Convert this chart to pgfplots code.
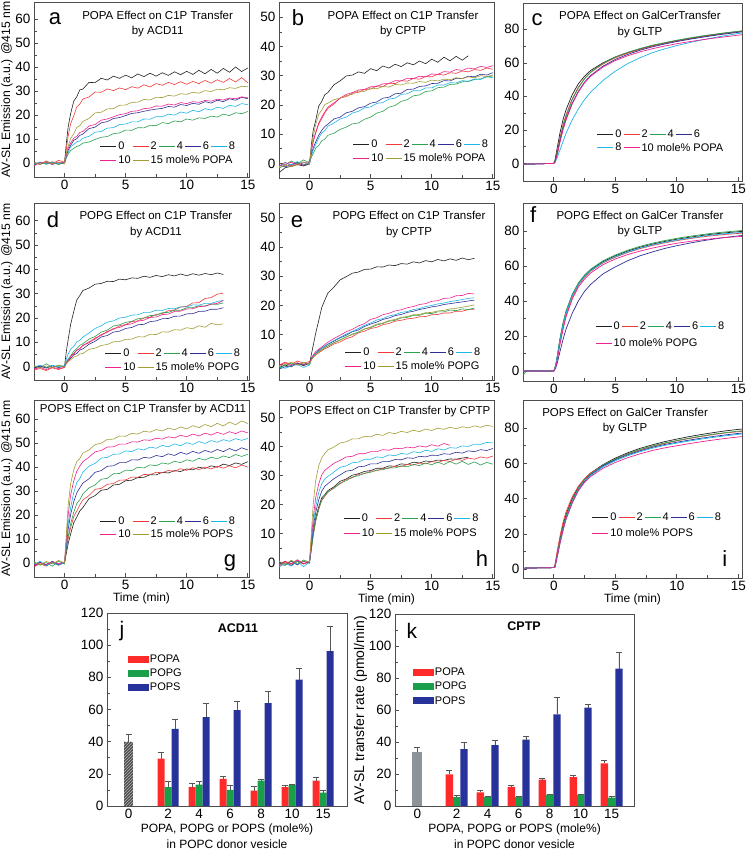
\documentclass[border=0pt]{standalone}
\usepackage{fontspec}
\setmainfont{Liberation Sans}
\setsansfont{Liberation Sans}
\usepackage{pgfplots}
\usepackage{pgfplotstable}
\pgfplotsset{compat=1.18}
\usetikzlibrary{patterns}

\definecolor{axgray}{HTML}{4D4D4D}
\definecolor{c0}{HTML}{222222}
\definecolor{c2}{HTML}{F03A3A}
\definecolor{c4}{HTML}{2BA04F}
\definecolor{c6}{HTML}{2E2E96}
\definecolor{c8}{HTML}{1EB4E6}
\definecolor{c10}{HTML}{F0208C}
\definecolor{c15}{HTML}{A29C34}
\definecolor{bred}{HTML}{FF2B2B}
\definecolor{bgreen}{HTML}{1A9E4A}
\definecolor{bblue}{HTML}{27339A}
\definecolor{bgray}{HTML}{8C9399}
\definecolor{hatchbg}{HTML}{505050}
\definecolor{hatchln}{HTML}{B4B4B4}
\definecolor{errgray}{HTML}{555555}

\tikzset{
  letter/.style={anchor=base, font=\fontsize{22}{22}\selectfont, inner sep=0pt},
  ttl/.style={align=center, font=\fontsize{11.5}{15.5}\selectfont, inner sep=0pt},
}

\pgfplotsset{
  kin/.style={
    scale only axis, anchor=south west,
    xmin=-2.5, xmax=15.1,
    xtick={0,5,10,15}, minor x tick num=1, minor y tick num=1,
    tick align=inside, xtick pos=left, ytick pos=left,
    axis line style={draw=axgray, line width=0.8pt},
    tick style={draw=axgray, line width=0.6pt},
    major tick length=4pt, minor tick length=2.5pt,
    tick label style={font=\fontsize{13.5}{13.5}\selectfont},
    /pgf/number format/assume math mode=true,
    clip mode=individual,
    every axis plot/.append style={line width=0.6pt},
    legend style={draw=none, fill=none, font=\fontsize{11}{11}\selectfont,
      anchor=north west, inner sep=0pt, outer sep=0pt, row sep=1pt,
      nodes={inner sep=1.6pt},
      /tikz/every even column/.append style={column sep=0pt}},
    legend cell align=left,
    legend image code/.code={\draw[#1, line width=0.8pt] (0pt,0pt) -- (16pt,0pt);},
    ylabel style={font=\fontsize{12.2}{13}\selectfont},
    ylabel shift=-4pt,
    xlabel style={font=\fontsize{12}{13}\selectfont, yshift=4pt},
  },
  bar/.style={
    scale only axis, anchor=south west,
    ymin=0, ymax=120, ytick={0,20,...,120}, minor y tick num=1,
    xtick={-0.27,1,2,3,4,5,6}, xticklabels={0,2,4,6,8,10,15},
    tick align=inside, xtick pos=left, ytick pos=left,
    x tick style={draw=none},
    axis line style={draw=axgray, line width=0.8pt},
    y tick style={draw=axgray, line width=0.6pt},
    major tick length=4pt, minor tick length=2.5pt,
    tick label style={font=\fontsize{13.5}{13.5}\selectfont},
    /pgf/number format/assume math mode=true,
    clip mode=individual,
    xlabel={POPA, POPG or POPS (mole\%)\\in POPC donor vesicle},
    xlabel style={align=center, font=\fontsize{12}{15.5}\selectfont, yshift=2pt},
    legend style={draw=none, fill=none, font=\fontsize{11}{11}\selectfont,
      anchor=north west, inner sep=0pt, outer sep=0pt, row sep=3pt,
      nodes={inner sep=1pt}},
    legend cell align=left,
  },
  eb/.style={
    /pgfplots/error bars/y dir=plus, /pgfplots/error bars/y explicit,
    /pgfplots/error bars/error bar style={line width=0.5pt, color=errgray},
    /pgfplots/error bars/error mark options={rotate=90, mark size=3pt, line width=0.5pt, color=errgray},
  },
  bleg/.style={legend image code/.code={\fill[##1] (0pt,-3.5pt) rectangle (21pt,3.5pt);}},
}

\newcommand{\seven}[2]{%
  \addplot[c0] table[x=t,y=s0]{#1}; \addlegendentry{0}
  \addplot[c2] table[x=t,y=s2]{#1}; \addlegendentry{2}
  \addplot[c4] table[x=t,y=s4]{#1}; \addlegendentry{4}
  \addplot[c6] table[x=t,y=s6]{#1}; \addlegendentry{6}
  \addplot[c8] table[x=t,y=s8]{#1}; \addlegendentry{8}
  \addplot[c10] table[x=t,y=s10]{#1}; \addlegendentry{10}
  \addplot[c15] table[x=t,y=s15]{#1}; \addlegendentry{\makebox[0pt][l]{15 mole\% #2}}
}
\newcommand{\six}[2]{%
  \addplot[c0,line width=0.7pt] table[x=t,y=s0]{#1}; \addlegendentry{0}
  \addplot[c2,line width=0.7pt] table[x=t,y=s2]{#1}; \addlegendentry{2}
  \addplot[c4,line width=0.7pt] table[x=t,y=s4]{#1}; \addlegendentry{4}
  \addplot[c6,line width=0.7pt] table[x=t,y=s6]{#1}; \addlegendentry{6}
  \addplot[c8,line width=0.7pt] table[x=t,y=s8]{#1}; \addlegendentry{8}
  \addplot[c10,line width=0.7pt] table[x=t,y=s10]{#1}; \addlegendentry{\makebox[0pt][l]{10 mole\% #2}}
}

% ---------------- data ----------------
\pgfplotstableread{
t s0 s2 s4 s6 s8 s10 s15
-2.5 -0.8 0.5 -0.6 0.2 -0.3 -1.0 0.3
-2.0 0.4 -0.5 0.3 -0.4 0.5 0.2 -0.5
-1.5 -0.3 1.0 -0.2 0.6 -0.4 0.4 0.6
-1.0 0.6 -0.2 0.4 -0.5 0.3 -0.3 -0.2
-0.5 -0.4 1.2 -0.5 0.3 -0.2 0.5 0.4
0.0 0.3 0.5 0.2 -0.2 0.4 0.1 -0.1
0.15 8.5 6.0 2.2 3.0 2.8 3.3 4.2
0.3 15.2 11.4 3.8 5.5 4.4 6.3 7.2
0.5 20.6 16.5 5.3 7.4 6.9 8.4 10.3
0.75 25.8 19.6 6.2 9.5 7.8 10.4 12.2
1.0 27.6 23.4 7.0 10.2 8.9 11.2 14.9
1.25 30.5 24.6 7.4 11.6 9.3 12.8 15.6
1.5 30.8 26.7 8.4 12.1 10.4 13.2 17.4
2.0 33.6 27.5 8.8 14.4 11.2 15.5 18.6
2.5 33.5 29.6 9.9 15.0 12.9 16.1 20.9
3.0 35.3 29.5 10.8 16.8 13.2 17.9 21.2
3.5 34.6 30.9 11.1 17.3 14.6 18.4 22.6
4.0 36.2 30.2 12.3 18.6 14.8 19.3 22.7
4.5 35.3 31.3 12.6 19.0 16.1 20.2 24.1
5.0 36.6 30.6 13.8 19.8 16.3 20.6 24.2
5.5 35.5 31.8 13.7 20.7 17.2 21.6 25.3
6.0 37.1 31.2 14.8 21.0 17.2 21.8 25.4
6.5 36.0 32.6 14.7 21.6 18.4 22.7 26.5
7.0 37.4 31.7 15.8 22.1 18.3 22.9 26.3
7.5 36.2 33.1 15.6 22.5 19.4 23.8 27.4
8.0 37.6 32.4 16.9 22.8 19.3 23.7 27.3
8.5 36.5 33.6 16.5 23.6 20.4 24.6 28.2
9.0 38.0 32.7 17.6 23.3 20.0 24.2 27.9
9.5 36.8 33.9 17.2 24.4 21.3 25.2 28.9
10.0 38.2 32.8 18.4 24.0 20.8 24.8 28.6
10.5 36.9 34.0 17.9 24.9 22.0 25.6 29.5
11.0 38.6 33.1 18.9 24.5 21.4 25.3 29.1
11.5 37.2 34.4 18.6 25.6 22.7 26.1 30.2
12.0 39.0 33.3 19.6 25.0 22.1 25.8 29.8
12.5 37.4 34.7 19.2 26.2 23.3 26.6 30.8
13.0 39.4 33.6 20.4 25.6 22.8 26.3 30.5
13.5 37.8 35.2 19.8 26.8 24.1 27.1 31.4
14.0 40.0 33.8 21.0 26.2 23.6 26.8 31.1
14.5 38.1 35.6 20.6 27.4 24.8 27.6 32.0
15.0 39.6 33.4 21.5 26.8 24.3 27.2 31.8
}\tA

\pgfplotstableread{
t s0 s2 s4 s6 s8 s10 s15
-2.5 -3.2 -1.0 -1.6 -0.5 -1.2 -0.8 -1.5
-2.0 -1.5 0.4 -0.6 -1.2 0.3 -0.3 -0.6
-1.5 -1.0 -0.8 0.8 -0.4 -0.5 0.4 -1.2
-1.0 -0.4 0.2 -0.2 0.3 0.6 -0.6 -0.3
-0.5 -0.9 -0.6 1.2 -0.7 -0.3 0.2 0.5
0.0 -0.2 0.3 0.1 0.2 0.1 0.6 -0.4
0.15 6.4 4.2 2.1 3.2 2.5 4.4 5.3
0.3 11.3 7.4 3.3 5.2 4.6 7.6 9.2
0.5 14.6 10.3 5.2 7.3 6.4 10.6 13.2
0.75 19.6 13.4 6.1 9.6 8.7 13.7 16.8
1.0 21.2 15.3 7.7 11.3 10.4 15.9 18.2
1.25 23.5 17.3 8.3 12.6 11.2 17.6 20.1
1.5 24.2 18.8 9.6 13.4 12.7 19.2 20.6
2.0 26.9 20.3 10.3 15.2 13.8 20.7 21.8
2.5 28.2 22.4 11.6 15.8 15.2 22.3 22.3
3.0 29.9 22.8 12.4 17.3 15.8 23.6 23.2
3.5 30.2 24.0 13.5 17.8 17.2 24.2 23.6
4.0 31.3 24.3 13.8 19.0 17.8 25.1 24.8
4.5 30.8 25.3 15.1 19.4 19.0 25.3 24.6
5.0 32.4 25.4 15.8 20.6 19.3 26.2 25.8
5.5 31.7 26.5 17.2 21.0 20.5 26.3 25.5
6.0 33.3 26.3 17.8 22.3 20.8 27.2 26.3
6.5 32.6 27.4 19.2 22.6 22.0 27.3 26.1
7.0 33.9 27.3 19.8 23.8 22.3 28.3 27.0
7.5 33.1 28.3 21.2 24.0 23.6 28.2 26.8
8.0 34.4 28.1 21.8 25.3 23.8 29.1 27.5
8.5 33.7 29.0 23.1 25.4 24.9 29.0 27.4
9.0 35.0 28.8 23.4 26.3 24.8 29.8 28.0
9.5 34.1 29.7 24.6 26.5 25.8 29.6 27.7
10.0 35.6 29.6 24.8 27.3 25.8 30.6 28.5
10.5 34.6 30.5 25.9 27.4 26.8 30.4 28.2
11.0 36.3 30.2 26.1 28.3 26.8 31.4 28.8
11.5 35.1 31.0 27.0 28.2 27.6 31.2 28.6
12.0 36.6 30.8 27.1 29.1 27.5 32.1 29.3
12.5 35.3 31.6 27.9 29.0 28.3 31.8 29.0
13.0 36.8 31.3 28.0 29.8 28.1 32.6 29.6
13.5 nan 32.1 28.7 29.6 28.9 32.3 29.3
14.0 nan 31.8 28.9 30.5 28.7 33.2 30.0
14.5 nan 32.6 29.6 30.2 29.6 32.8 29.7
15.0 nan 32.2 29.9 31.0 29.3 33.4 30.2
}\tB

\pgfplotstableread{
t s0 s2 s4 s6 s8 s10
-2.5 -0.5 -0.5 -0.5 -0.5 -0.5 -0.5
0.0 0.0 0.0 0.0 0.0 0.0 0.0
0.1 2.0 1.0 1.0 0.8 0.5 0.7
0.25 8.0 6.0 5.5 5.0 3.0 4.5
0.5 18.0 15.0 14.0 13.0 8.0 12.5
0.75 26.0 23.0 22.0 20.5 13.0 20.0
1.0 32.0 29.0 28.0 26.5 18.0 26.0
1.5 41.0 38.5 38.0 36.0 26.0 35.5
2.0 47.5 45.5 45.0 43.0 32.5 42.5
2.5 52.0 50.5 50.5 48.5 38.0 48.0
3.0 55.5 54.3 54.5 52.5 42.5 52.0
4.0 60.0 59.3 59.8 58.0 49.5 57.5
5.0 63.5 63.0 63.5 62.0 55.0 61.3
6.0 66.0 65.8 66.3 65.0 59.5 64.2
7.0 68.3 68.0 68.5 67.5 63.0 66.5
8.0 70.2 70.0 70.5 69.5 66.0 68.4
9.0 71.8 71.6 72.0 71.2 68.3 70.0
10.0 73.2 73.0 73.5 72.7 70.3 71.4
11.0 74.5 74.3 74.8 74.0 72.0 72.6
12.0 75.7 75.5 76.0 75.2 73.6 73.7
13.0 76.8 76.6 77.0 76.3 75.0 74.7
14.0 77.8 77.6 78.0 77.3 76.3 75.6
15.0 78.7 78.5 78.8 78.2 77.5 76.5
15.3 79.0 78.8 79.0 78.5 77.8 76.8
}\tC

\pgfplotstableread{
t s0 s2 s4 s6 s8 s10 s15
-2.5 -0.5 -1.4 0.4 -0.8 -0.2 -1.0 0.2
-2.0 0.3 -0.8 -0.5 0.2 0.6 -0.4 -0.6
-1.5 -0.6 -1.6 1.2 -0.5 -0.3 -1.2 0.3
-1.0 0.4 -0.5 -0.3 0.4 0.5 -0.2 -0.4
-0.5 -0.3 -1.2 0.6 -0.3 -0.1 -0.9 0.5
0.0 0.2 -0.4 0.1 0.2 0.3 -0.2 -0.2
0.15 6.3 1.6 2.0 1.4 3.2 1.5 1.2
0.3 11.2 2.4 3.2 2.6 5.1 2.4 2.1
0.5 17.4 4.3 4.4 3.4 7.2 4.2 2.8
0.75 22.6 5.2 6.3 4.8 8.3 5.3 3.9
1.0 27.4 6.8 7.4 5.4 10.2 6.7 4.3
1.25 29.2 7.4 8.8 6.8 10.8 7.4 5.2
1.5 31.3 8.8 9.4 7.3 12.2 8.6 5.4
2.0 32.3 9.8 11.3 9.2 13.8 10.2 7.1
2.5 33.9 11.8 12.4 10.4 15.7 11.3 7.6
3.0 34.2 12.8 14.2 12.2 16.8 13.2 8.7
3.5 35.1 14.5 15.0 12.8 18.3 14.1 9.1
4.0 35.0 15.3 16.7 14.2 18.8 15.7 10.2
4.5 36.0 16.8 17.2 14.6 20.0 16.1 10.3
5.0 35.7 17.3 18.2 15.7 20.3 17.2 11.2
5.5 36.5 18.5 18.6 16.1 21.2 17.6 11.3
6.0 36.3 18.8 19.7 17.2 21.3 18.7 12.3
6.5 37.2 20.0 20.0 17.4 22.3 19.1 12.2
7.0 36.7 20.3 21.0 18.5 22.3 20.2 13.3
7.5 37.5 21.5 21.1 18.8 23.2 20.4 13.2
8.0 37.0 21.8 22.2 19.7 23.1 21.4 14.3
8.5 37.8 23.0 22.3 19.8 23.9 21.6 14.2
9.0 37.3 23.3 23.2 20.7 23.8 22.7 15.2
9.5 38.1 24.5 23.2 20.8 24.6 22.8 15.0
10.0 37.4 24.8 24.2 21.7 24.6 23.7 16.0
10.5 38.2 26.2 24.3 21.8 25.4 23.8 15.6
11.0 37.6 26.3 25.0 22.7 25.3 24.7 16.8
11.5 38.3 28.0 25.0 22.8 26.0 24.8 16.2
12.0 37.8 28.4 25.7 23.6 26.0 25.7 17.8
12.5 38.5 29.8 25.6 23.6 26.8 26.0 17.2
13.0 37.9 30.2 26.2 24.2 27.3 27.2 17.6
}\tD

\pgfplotstableread{
t s0 s2 s4 s6 s8 s10 s15
-2.5 -1.2 -0.4 -1.5 -1.8 -1.0 -0.6 -0.8
-2.0 -0.4 0.6 -0.5 -1.0 -1.5 0.3 -0.2
-1.5 -1.0 -0.2 0.3 -0.6 -0.7 -0.5 0.6
-1.0 0.2 1.0 -0.4 0.2 -0.2 0.4 -0.4
-0.5 -0.6 0.3 0.4 -0.3 -1.2 -0.2 0.5
0.0 0.2 0.8 -0.2 0.4 -0.4 0.3 0.1
0.15 3.2 1.4 1.6 1.8 1.5 2.0 1.3
0.3 6.3 2.2 2.6 2.8 2.4 3.0 2.4
0.5 10.4 3.0 3.4 3.6 3.8 4.2 3.3
0.75 14.8 3.8 4.3 4.6 4.4 5.0 4.0
1.0 19.3 4.5 4.9 5.4 5.4 5.8 4.8
1.25 21.8 5.2 5.6 6.0 6.1 6.6 5.5
1.5 24.2 5.6 6.2 6.7 6.8 7.4 6.0
2.0 26.3 6.8 7.3 7.8 8.0 8.7 7.2
2.5 28.7 7.5 8.2 8.9 9.1 9.8 8.1
3.0 29.8 8.6 9.2 9.8 10.2 11.0 9.2
3.5 31.0 9.3 10.2 11.0 11.1 11.8 10.0
4.0 31.4 10.6 10.9 11.6 12.1 13.0 10.8
4.5 32.3 11.2 11.9 12.8 13.2 13.8 12.0
5.0 32.4 12.1 12.4 13.6 14.0 15.2 12.6
5.5 33.2 12.5 13.3 14.3 15.0 15.8 13.6
6.0 33.1 13.4 13.8 15.2 15.5 16.8 14.0
6.5 33.8 13.8 14.6 15.7 16.4 17.3 14.8
7.0 33.6 14.6 14.9 16.5 16.8 18.1 15.2
7.5 34.3 14.9 15.7 16.9 17.6 18.5 15.9
8.0 34.1 15.4 15.9 17.6 17.9 19.2 16.2
8.5 34.9 15.6 16.6 18.0 18.6 19.6 16.8
9.0 34.5 16.1 16.6 18.6 18.9 20.3 16.9
9.5 35.3 16.2 17.3 19.0 19.6 20.6 17.5
10.0 34.9 16.8 17.2 19.5 20.0 21.4 17.6
10.5 35.7 16.9 17.8 19.8 20.5 21.6 18.1
11.0 35.2 17.4 17.8 20.3 20.8 22.4 18.3
11.5 35.9 17.4 18.4 20.6 21.3 22.5 18.8
12.0 35.4 18.0 18.2 20.9 21.6 23.3 19.0
12.5 36.2 18.0 18.8 21.2 22.0 23.4 19.4
13.0 35.6 18.6 18.6 21.5 22.4 24.1 19.7
13.5 36.1 18.7 19.1 21.8 22.6 23.9 20.2
}\tE

\pgfplotstableread{
t s0 s2 s4 s6 s8 s10
-2.5 0.0 0.0 -2.5 0.0 0.0 0.0
-2.2 0.0 0.0 0.3 0.0 0.0 0.0
0.0 0.0 0.0 0.0 0.0 0.0 0.0
0.15 3.0 2.5 3.2 1.5 2.8 2.0
0.3 9.0 8.0 9.2 5.0 8.5 7.0
0.5 18.0 16.0 18.3 11.0 17.0 15.0
0.75 27.0 25.0 27.2 18.0 26.0 23.5
1.0 34.0 32.0 34.2 24.0 33.0 31.0
1.5 43.5 42.0 43.8 33.0 43.0 41.0
2.0 50.0 49.0 50.3 40.0 49.5 48.0
2.5 54.5 53.5 54.8 45.5 54.0 52.5
3.0 57.8 57.0 58.2 49.5 57.3 56.0
4.0 62.5 61.8 63.0 55.5 62.0 60.8
5.0 65.8 65.0 66.3 59.5 65.3 64.0
6.0 68.5 67.7 69.0 63.0 68.0 66.5
7.0 70.7 69.9 71.2 65.8 70.2 68.5
8.0 72.5 71.7 73.0 68.0 72.0 70.2
9.0 74.0 73.2 74.5 70.0 73.5 71.7
10.0 75.3 74.5 75.8 71.6 74.8 73.0
11.0 76.4 75.6 76.9 73.0 75.9 74.0
12.0 77.4 76.6 77.9 74.3 76.9 74.9
13.0 78.3 77.4 78.8 75.4 77.8 75.7
14.0 79.0 78.1 79.5 76.4 78.5 76.3
15.0 79.6 78.6 80.1 77.2 79.0 76.8
15.3 79.8 78.8 80.3 77.4 79.2 76.9
}\tF

\pgfplotstableread{
t s0 s2 s4 s6 s8 s10 s15
-2.5 -0.8 -1.5 0.6 -1.2 -0.4 -0.8 0.3
-2.0 0.5 -0.2 -0.8 0.4 0.8 0.2 -0.6
-1.5 -1.0 -1.2 0.3 -0.6 -1.0 -0.5 0.8
-1.0 0.2 0.5 -1.2 0.8 0.3 0.6 -0.3
-0.5 -0.6 -0.8 0.9 -0.4 -0.8 -0.2 1.2
0.0 0.3 0.2 -0.3 0.2 0.4 0.5 0.2
0.15 4.2 5.3 6.1 7.3 8.2 10.4 12.3
0.3 8.3 10.4 11.2 14.3 16.5 20.3 24.4
0.5 12.2 14.8 16.5 20.4 23.2 28.4 33.2
0.75 16.8 19.4 21.2 25.5 29.4 34.3 38.8
1.0 19.2 21.8 24.9 29.3 33.6 38.3 42.4
1.25 21.8 24.3 26.4 31.4 35.3 40.5 43.6
1.5 23.2 26.4 28.9 33.4 37.9 42.3 45.9
2.0 26.9 28.2 31.4 35.2 40.4 44.2 47.2
2.5 28.2 30.8 32.6 37.9 41.6 46.4 49.4
3.0 30.4 31.2 35.0 38.6 43.8 47.0 50.0
3.5 30.8 32.9 35.4 40.4 44.1 48.4 51.6
4.0 32.6 33.2 37.3 40.6 45.4 48.5 51.7
4.5 32.9 34.6 37.4 41.9 45.5 49.6 53.0
5.0 34.4 34.7 38.8 41.9 46.8 49.6 52.9
5.5 34.6 35.9 38.6 43.1 46.5 50.6 54.1
6.0 35.7 35.8 40.0 43.0 47.7 50.5 53.8
6.5 35.8 37.0 39.7 44.1 47.2 51.4 55.0
7.0 36.9 36.9 41.0 43.8 48.4 51.2 54.6
7.5 36.8 37.9 40.6 44.9 47.9 52.1 55.7
8.0 37.9 37.7 41.8 44.4 49.1 51.7 55.1
8.5 37.6 38.7 41.3 45.6 48.5 52.7 56.3
9.0 38.6 38.3 42.5 44.9 49.7 52.2 55.6
9.5 38.2 39.4 41.9 46.2 49.0 53.3 56.8
10.0 39.3 38.7 43.1 45.4 50.2 52.7 56.0
10.5 38.9 39.8 42.5 46.6 49.5 53.8 57.3
11.0 40.0 39.0 43.7 45.8 50.7 53.0 56.5
11.5 39.5 40.1 43.0 47.0 49.9 54.2 57.8
12.0 40.6 39.3 44.2 46.2 51.1 53.4 56.9
12.5 40.0 40.4 43.5 47.4 50.4 54.5 58.3
13.0 41.3 39.6 44.7 46.5 51.5 53.7 57.2
13.5 40.7 40.6 44.0 47.8 50.8 54.8 58.8
14.0 41.8 39.8 45.3 46.8 51.9 54.0 57.7
14.5 41.2 40.9 44.5 48.1 51.2 55.1 59.3
15.0 42.3 40.1 45.4 47.2 52.0 54.3 58.2
}\tG

\pgfplotstableread{
t s0 s2 s4 s6 s8 s10 s15
-2.5 -0.6 -1.2 -0.4 0.3 -1.6 -0.8 0.4
-2.0 0.4 0.2 -1.0 -0.6 -0.2 0.5 -0.5
-1.5 -1.0 -0.6 0.6 0.4 -1.2 -0.4 0.8
-1.0 0.5 0.8 -0.6 -0.8 0.5 1.0 -0.2
-0.5 -0.4 -0.5 0.9 0.5 -1.4 -0.3 0.6
0.0 0.2 0.3 0.1 -0.2 0.2 0.4 0.3
0.15 5.1 4.4 4.6 6.2 7.1 8.2 10.3
0.3 10.2 9.2 9.4 12.1 13.2 15.3 20.2
0.5 15.3 14.1 14.4 17.2 19.1 22.3 28.2
0.75 19.2 18.6 18.2 21.6 24.2 27.1 33.3
1.0 22.3 21.4 21.8 24.6 27.2 30.2 36.1
1.25 23.4 22.8 23.2 26.3 28.8 31.8 37.6
1.5 24.8 24.2 24.4 27.2 29.7 32.6 38.8
2.0 26.1 25.9 25.6 28.9 31.2 34.2 39.8
2.5 28.0 27.1 27.4 30.2 32.8 35.2 41.2
3.0 28.8 28.7 28.2 31.5 33.3 36.4 41.6
3.5 30.1 29.2 29.5 31.8 34.4 36.6 42.6
4.0 30.6 30.4 29.9 33.0 34.6 37.5 42.6
4.5 31.4 30.6 30.8 33.2 35.6 37.5 43.5
5.0 31.7 31.5 31.1 34.0 35.6 38.2 43.3
5.5 32.5 31.6 31.9 34.0 36.4 38.2 44.2
6.0 32.5 32.4 32.0 34.8 36.2 38.9 43.8
6.5 33.3 32.5 32.7 34.8 37.1 38.7 44.8
7.0 33.2 33.2 32.6 35.5 36.8 39.4 44.4
7.5 34.0 33.1 33.3 35.4 37.6 39.2 45.2
8.0 33.8 33.8 33.0 36.1 37.3 39.8 44.8
8.5 34.6 33.6 33.8 35.9 38.2 39.5 45.6
9.0 34.3 34.3 33.4 36.6 37.8 40.2 45.1
9.5 35.0 34.0 34.3 36.4 38.7 39.8 46.0
10.0 34.8 34.8 33.7 37.0 38.3 40.6 45.5
10.5 35.3 34.5 34.6 36.9 39.2 40.1 46.3
11.0 35.2 35.2 33.8 37.5 38.8 41.0 45.9
11.5 35.7 34.8 34.8 37.3 39.6 40.4 46.6
12.0 35.6 35.6 33.9 38.0 39.4 nan 46.1
12.5 36.0 35.2 34.9 37.7 40.2 nan 46.8
13.0 36.3 36.0 33.8 38.5 40.0 nan 46.4
13.5 nan 35.6 34.7 38.2 40.8 nan 47.1
14.0 nan 36.4 33.6 38.9 40.7 nan 46.6
14.5 nan 36.0 34.5 38.6 41.4 nan 47.3
15.0 nan 36.7 33.9 39.3 41.2 nan 46.9
}\tH

\pgfplotstableread{
t s0 s2 s4 s6 s8 s10
-2.5 0.5 0.5 0.5 0.5 0.5 0.5
0.0 0.8 0.8 0.8 0.8 0.8 0.8
0.1 2.0 2.5 1.5 1.0 1.0 1.0
0.25 8.0 9.0 7.0 6.0 6.0 6.0
0.5 17.0 18.5 16.0 14.5 14.5 14.5
0.75 25.0 26.5 23.5 22.0 22.0 22.0
1.0 31.0 32.5 30.0 28.5 28.5 28.5
1.5 40.0 41.0 39.0 37.8 37.5 37.5
2.0 46.5 47.0 46.0 45.0 44.5 44.5
2.5 51.0 51.3 50.6 49.8 49.4 49.2
3.0 54.5 54.5 54.0 53.5 53.0 52.5
4.0 59.3 59.0 59.0 58.5 58.0 57.2
5.0 63.0 62.5 62.5 62.0 61.5 60.5
6.0 66.0 65.3 65.5 64.8 64.3 63.2
7.0 68.5 67.6 67.9 67.1 66.6 65.4
8.0 70.5 69.6 69.9 69.1 68.6 67.3
9.0 72.3 71.3 71.6 70.7 70.2 68.8
10.0 73.8 72.8 73.0 72.0 71.5 70.0
11.0 75.2 74.1 74.3 73.2 72.7 71.2
12.0 76.4 75.3 75.5 74.3 73.8 72.3
13.0 77.5 76.4 76.6 75.3 74.8 73.3
14.0 78.5 77.3 77.5 76.2 75.7 74.2
15.0 79.3 78.0 78.3 77.0 76.5 75.0
15.3 79.5 78.2 78.5 77.2 76.7 75.2
}\tI

\pgfplotstableread{
p a ae g ge s se
1 29.5 3.9 11.8 3.5 47.9 6.1
2 11.8 2.2 13.3 2.3 55.2 8.7
3 16.8 1.6 10.0 2.9 59.6 5.6
4 9.5 2.5 15.8 0.8 64.0 7.4
5 11.8 1.2 13.0 0.7 78.5 7.2
6 15.8 2.1 8.3 1.2 96.3 15.7
}\tJ

\pgfplotstableread{
p a ae g ge s se
1 19.8 2.5 5.6 1.1 35.6 4.2
2 8.5 1.1 5.6 0.6 38.0 3.0
3 11.9 1.1 5.6 0.7 41.5 2.3
4 16.5 1.0 7.0 0.6 57.3 10.4
5 18.1 1.3 7.0 0.5 61.5 1.9
6 26.7 1.8 5.2 0.8 85.8 10.6
}\tK

\begin{document}
\begin{tikzpicture}
\path[use as bounding box] (0pt,0pt) rectangle (745pt,851pt);

% ---- row 1 ----
\begin{axis}[kin, at={(34pt,674pt)}, width=215pt, height=175pt, ymin=-5.7, ymax=67,
  ytick={0,10,...,60}, ylabel={AV-SL Emission (a.u.) @415 nm},
  legend columns=5, legend style={at={(0.307,0.21)}}]
\seven{\tA}{POPA}
\node[letter] at (rel axis cs:0.098,0.874) {a};
\node[ttl] at (rel axis cs:0.575,0.874) {POPA Effect on C1P Transfer\\by ACD11};
\end{axis}

\begin{axis}[kin, at={(279pt,673pt)}, width=215pt, height=176pt, ymin=-5, ymax=55.2,
  ytick={0,10,...,50},
  legend columns=5, legend style={at={(0.344,0.226)}}]
\seven{\tB}{POPA}
\node[letter] at (rel axis cs:0.088,0.869) {b};
\node[ttl] at (rel axis cs:0.577,0.875) {POPA Effect on C1P Transfer\\by CPTP};
\end{axis}

\begin{axis}[kin, at={(523pt,670pt)}, width=219pt, height=178pt, xmax=15.3, ymin=-10.5, ymax=95.7,
  ytick={0,20,...,80},
  legend columns=4, legend style={at={(0.338,0.297)}}]
\six{\tC}{POPA}
\node[letter] at (rel axis cs:0.064,0.876) {c};
\node[ttl] at (rel axis cs:0.534,0.879) {POPA Effect on GalCerTransfer\\by GLTP};
\end{axis}

% ---- row 2 ----
\begin{axis}[kin, at={(34pt,471pt)}, width=215pt, height=177pt, ymin=-5.5, ymax=67.3,
  ytick={0,10,...,60}, ylabel={AV-SL Emission (a.u.) @415 nm},
  legend columns=5, legend style={at={(0.33,0.185)}}]
\seven{\tD}{POPG}
\node[letter] at (rel axis cs:0.088,0.859) {d};
\node[ttl] at (rel axis cs:0.567,0.878) {POPG Effect on C1P Transfer\\by ACD11};
\end{axis}

\begin{axis}[kin, at={(279pt,471pt)}, width=215pt, height=177pt, ymin=-5.5, ymax=55,
  ytick={0,10,...,50},
  legend columns=5, legend style={at={(0.307,0.19)}}]
\seven{\tE}{POPG}
\node[letter] at (rel axis cs:0.084,0.864) {e};
\node[ttl] at (rel axis cs:0.605,0.878) {POPG Effect on C1P Transfer\\by CPTP};
\end{axis}

\begin{axis}[kin, at={(523pt,470pt)}, width=219pt, height=178pt, xmax=15.3, ymin=-5.7, ymax=96,
  ytick={0,20,...,80},
  legend columns=5, legend style={at={(0.33,0.34)}, row sep=4pt}]
\six{\tF}{POPG}
\node[letter] at (rel axis cs:0.046,0.893) {f};
\node[ttl] at (rel axis cs:0.534,0.882) {POPG Effect on GalCer Transfer\\by GLTP};
\end{axis}

% ---- row 3 ----
\begin{axis}[kin, at={(34pt,274pt)}, width=215pt, height=177pt, ymin=-5.7, ymax=68,
  ytick={0,10,...,60}, ylabel={AV-SL Emission (a.u.) @415 nm}, xlabel={Time (min)},
  legend columns=5, legend style={at={(0.307,0.35)}}]
\seven{\tG}{POPS}
\node[letter] at (rel axis cs:0.912,0.062) {g};
\node[ttl] at (rel axis cs:0.507,0.944) {POPS Effect on C1P Transfer by ACD11};
\end{axis}

\begin{axis}[kin, at={(279pt,273pt)}, width=215pt, height=178pt, ymin=-5.3, ymax=56,
  ytick={0,10,...,50}, xlabel={Time (min)},
  legend columns=5, legend style={at={(0.30,0.37)}, row sep=2.5pt}]
\seven{\tH}{POPS}
\node[letter] at (rel axis cs:0.944,0.063) {h};
\node[ttl] at (rel axis cs:0.516,0.933) {POPS Effect on C1P Transfer by CPTP};
\end{axis}

\begin{axis}[kin, at={(523pt,273pt)}, width=219pt, height=178pt, xmax=15.3, ymin=-5.1, ymax=96,
  ytick={0,20,...,80}, xlabel={Time (min)},
  legend columns=5, legend style={at={(0.315,0.375)}, row sep=3.5pt}]
\six{\tI}{POPS}
\node[letter] at (rel axis cs:0.922,0.063) {i};
\node[ttl] at (rel axis cs:0.466,0.882) {POPS Effect on GalCer Transfer\\by GLTP};
\end{axis}

% ---- bar panels ----
\begin{axis}[bar, at={(107pt,45pt)}, width=240pt, height=193pt, xmin=-0.97, xmax=6.77,
  legend style={at={(0.0875,0.79)}}]
\addplot[ybar, bar width=9pt, bar shift=0pt, fill=hatchbg, draw=none,
  postaction={pattern=north east lines, pattern color=hatchln}, forget plot, eb]
  coordinates {(-0.27,40.0) +- (0,4.8)};
\addplot[ybar, bar width=7pt, bar shift=0pt, fill=bred, draw=none, bleg, eb]
  table[x expr=\thisrow{p}-0.226, y=a, y error=ae]{\tJ};
\addlegendentry{POPA}
\addplot[ybar, bar width=7pt, bar shift=0pt, fill=bgreen, draw=none, bleg, eb]
  table[x=p, y=g, y error=ge]{\tJ};
\addlegendentry{POPG}
\addplot[ybar, bar width=7pt, bar shift=0pt, fill=bblue, draw=none, bleg, eb]
  table[x expr=\thisrow{p}+0.226, y=s, y error=se]{\tJ};
\addlegendentry{POPS}
\node[anchor=base, font=\fontsize{21}{21}\selectfont, inner sep=0pt] at (rel axis cs:0.0625,0.88) {j};
\node[font=\bfseries\fontsize{12.5}{13}\selectfont, inner sep=0pt] at (rel axis cs:0.546,0.92) {ACD11};
\end{axis}

\begin{axis}[bar, at={(395pt,45pt)}, width=239pt, height=192pt, xmin=-0.99, xmax=6.72,
  ylabel={AV-SL transfer rate (pmol/min)}, ylabel style={font=\fontsize{14}{14}\selectfont},
  ylabel shift=-5pt,
  legend style={at={(0.075,0.724)}}]
\addplot[ybar, bar width=10pt, bar shift=0pt, fill=bgray, draw=none, forget plot, eb]
  coordinates {(-0.28,33.5) +- (0,3.2)};
\addplot[ybar, bar width=7.3pt, bar shift=0pt, fill=bred, draw=none, bleg, eb]
  table[x expr=\thisrow{p}-0.2355, y=a, y error=ae]{\tK};
\addlegendentry{POPA}
\addplot[ybar, bar width=7.3pt, bar shift=0pt, fill=bgreen, draw=none, bleg, eb]
  table[x=p, y=g, y error=ge]{\tK};
\addlegendentry{POPG}
\addplot[ybar, bar width=7.3pt, bar shift=0pt, fill=bblue, draw=none, bleg, eb]
  table[x expr=\thisrow{p}+0.2355, y=s, y error=se]{\tK};
\addlegendentry{POPS}
\node[anchor=base, font=\fontsize{21}{21}\selectfont, inner sep=0pt] at (rel axis cs:0.071,0.87) {k};
\node[font=\bfseries\fontsize{12.5}{13}\selectfont, inner sep=0pt] at (rel axis cs:0.54,0.9375) {CPTP};
\end{axis}

\end{tikzpicture}
\end{document}
